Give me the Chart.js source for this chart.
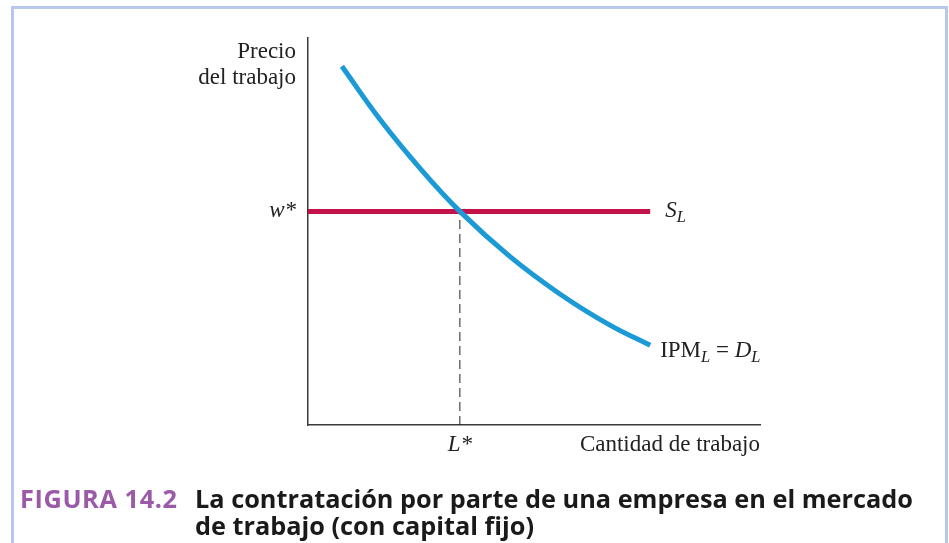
<!DOCTYPE html>
<html>
<head>
<meta charset="utf-8">
<script src="https://cdn.jsdelivr.net/npm/chart.js@4"></script>
<style>
  body { margin: 0; background: #fff; }
  #wrap { position: relative; width: 949px; height: 543px; overflow: hidden; }
  #frame { position: absolute; left: 11px; top: 6px; width: 931px; height: 600px;
    border: 3px solid #b6c8ee; border-bottom: none; }
  canvas { position: absolute; left: 0; top: 0; }
  #cap { position: absolute; left: 20px; top: 485px; display: flex;
    font-family: "Open Sans", sans-serif; font-weight: 700; font-size: 25.3px; line-height: 27px; color: #1a1a1a; }
  #cap .num { color: #9a5aa8; width: 175px; flex: none; letter-spacing: 0.6px; }
</style>
</head>
<body>
<div id="wrap">
  <div id="frame"></div>
  <canvas id="myChart" width="949" height="543"></canvas>
  <div id="cap"><span class="num">FIGURA 14.2</span><span>La contratación por parte de una empresa en el mercado<br>de trabajo (con capital fijo)</span></div>
</div>
<script>
// curva de demanda IPM_L = D_L (cantidad, precio)
const demandL = [7.5, 15.9, 24.8, 33.6, 44.7, 55.8, 66.8, 75.7];
const demandW = [92.7, 79.0, 66.3, 55.2, 43.5, 33.8, 25.8, 20.6];
// oferta S_L horizontal
const supplyL = [0, 75.7];
const supplyW = [55.2, 55.2];
// equilibrio
const wageStar = 55.2;
const laborStar = 33.6;

const serif = '"Liberation Serif", "DejaVu Serif", serif';

function pts(xs, ys) {
  return xs.map((x, i) => ({ x: x, y: ys[i] }));
}

// draws pieces of text one after another: [text, italic, sub]
function drawRuns(ctx, runs, x, y, size) {
  let cx = x;
  runs.forEach(r => {
    const s = r[2] ? size * 0.72 : size;
    ctx.font = (r[1] ? 'italic ' : '') + s + 'px ' + serif;
    ctx.fillText(r[0], cx, y + (r[2] ? size * 0.28 : 0));
    cx += ctx.measureText(r[0]).width;
  });
}

const labelsPlugin = {
  id: 'labels',
  afterDraw(chart) {
    const ctx = chart.ctx;
    const a = chart.chartArea;
    const xs = chart.scales.x, ys = chart.scales.y;
    const size = 23;
    ctx.save();
    ctx.fillStyle = '#222';
    ctx.textBaseline = 'middle';
    ctx.font = size + 'px ' + serif;
    ctx.textAlign = 'right';
    ctx.fillText('Precio', a.left - 12, a.top + 14);
    ctx.fillText('del trabajo', a.left - 12, a.top + 40);
    ctx.font = 'italic ' + size + 'px ' + serif;
    ctx.fillText('w*', a.left - 12, ys.getPixelForValue(wageStar));
    ctx.textAlign = 'center';
    ctx.fillText('L*', xs.getPixelForValue(laborStar), a.bottom + 20);
    ctx.font = size + 'px ' + serif;
    ctx.textAlign = 'right';
    ctx.fillText('Cantidad de trabajo', a.right, a.bottom + 20);
    ctx.textAlign = 'left';
    drawRuns(ctx, [['S', true], ['L', true, true]],
      xs.getPixelForValue(supplyL[1]) + 15, ys.getPixelForValue(wageStar), size);
    drawRuns(ctx, [['IPM', false], ['L', true, true], [' = ', false], ['D', true], ['L', true, true]],
      xs.getPixelForValue(demandL[demandL.length - 1]) + 10, ys.getPixelForValue(demandW[demandW.length - 1]) + 6, size);
    ctx.restore();
  }
};

const data = {
  datasets: [{
    label: 'IPM_L = D_L',
    data: pts(demandL, demandW),
    borderColor: '#1c9ad6',
    borderWidth: 5,
    tension: 0.4,
    pointRadius: 0
  },
  {
    label: 'S_L',
    data: pts(supplyL, supplyW),
    borderColor: '#c4124a',
    borderWidth: 5,
    pointRadius: 0
  },
  {
    label: 'L*',
    data: [{ x: laborStar, y: 0 }, { x: laborStar, y: wageStar }],
    borderColor: '#222',
    borderWidth: 1,
    borderDash: [9, 5],
    pointRadius: 0
  }]
};

const config = {
  type: 'line',
  data: data,
  options: {
    responsive: false,
    animation: false,
    layout: { padding: { left: 300, right: 189, top: 38, bottom: 110 } },
    plugins: { legend: { display: false }, tooltip: { enabled: false } },
    scales: {
      x: {
        type: 'linear', min: 0, max: 100,
        ticks: { display: false },
        grid: { display: false },
        border: { color: '#3a3a3a', width: 1.5 }
      },
      y: {
        type: 'linear', min: 0, max: 100,
        ticks: { display: false },
        grid: { display: false },
        border: { color: '#3a3a3a', width: 1.5 }
      }
    }
  },
  plugins: [labelsPlugin]
};

const myChart = new Chart(document.getElementById('myChart'), config);
</script>
</body>
</html>
